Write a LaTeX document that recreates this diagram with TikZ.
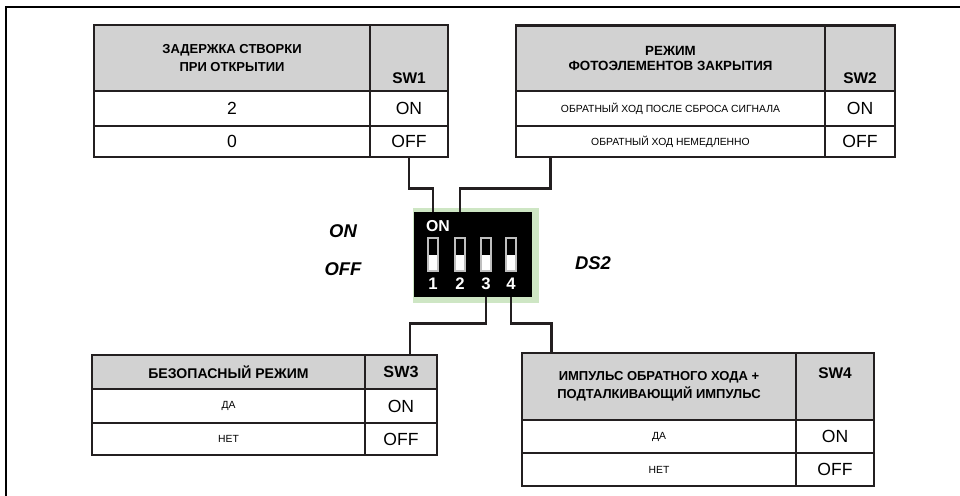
\documentclass[tikz,border=0pt]{standalone}
\usepackage{fontspec}
\setmainfont{Liberation Sans}
\usetikzlibrary{calc,positioning}

\definecolor{framecol}{RGB}{35,31,32}
\definecolor{headgray}{RGB}{210,210,210}
\definecolor{dsgreen}{RGB}{206,230,196}

\begin{document}
\begin{tikzpicture}[x=0.02cm, y=-0.02cm]
    \def\u{0.02cm} % one pixel

    % Styles
    \tikzset{
        cell/.style 2 args={draw=framecol, line width=1.6pt, minimum width=#1*\u, minimum height=#2*\u, inner sep=0pt, align=center},
        headcell/.style={fill=headgray, font=\bfseries\fontsize{7.4}{10.5}\selectfont},
        valcell/.style={fill=white, font=\fontsize{10}{12}\selectfont},
        smallcell/.style={fill=white, font=\fontsize{5.9}{7}\selectfont},
        swlbl/.style={font=\bfseries\fontsize{8.8}{10}\selectfont, inner sep=0pt},
        sidelbl/.style={font=\bfseries\itshape\fontsize{10.5}{12}\selectfont, inner sep=0pt},
        slot/.style={draw=white!75!black, line width=0.9pt, fill=white, minimum width=10*\u, minimum height=33*\u, inner sep=0pt},
        dsnum/.style={text=white, font=\bfseries\fontsize{9.5}{10}\selectfont, inner sep=0pt},
        wire/.style={draw=framecol, line width=1.5pt}
    }

    \useasboundingbox (0,0) rectangle (960,496);

    % --- OUTER FRAME ---
    \draw[line width=1.7pt] (6,500) -- (6,7) -- (962,7);

    % --- TABLE SW1 ---
    \node[cell={276}{66}, headcell] (h1) at (232,58) {ЗАДЕРЖКА СТВОРКИ\\ПРИ ОТКРЫТИИ};
    \node[cell={78}{66}, headcell] (s1) at (409,58) {};
    \node[swlbl, above=5pt of s1.south] (l1) {SW1};
    \node[cell={276}{35}, valcell] (a1) at (232,108.5) {2};
    \node[cell={78}{35}, valcell] (b1) at (409,108.5) {ON};
    \node[cell={276}{31}, valcell] (c1) at (232,141.5) {0};
    \node[cell={78}{31}, valcell] (o1) at (409,141.5) {OFF};

    % --- TABLE SW2 ---
    \node[cell={309}{66}, headcell, font=\bfseries\fontsize{7.6}{8.6}\selectfont] (h2) at (670.5,58.5) {РЕЖИМ\\ФОТОЭЛЕМЕНТОВ ЗАКРЫТИЯ};
    \node[cell={70}{66}, headcell] (s2) at (860,58.5) {};
    \node[swlbl, above=5pt of s2.south] (l2) {SW2};
    \node[cell={309}{35}, smallcell] (a2) at (670.5,108.5) {ОБРАТНЫЙ ХОД ПОСЛЕ СБРОСА СИГНАЛА};
    \node[cell={70}{35}, valcell] (b2) at (860,108.5) {ON};
    \node[cell={309}{31}, smallcell] (c2) at (670.5,141.5) {ОБРАТНЫЙ ХОД НЕМЕДЛЕННО};
    \node[cell={70}{31}, valcell] (o2) at (860,141.5) {OFF};

    % --- DIP SWITCH DS2 ---
    \node[fill=dsgreen, minimum width=126*\u, minimum height=95*\u, inner sep=0pt] (dsbg) at (476,255.5) {};
    \node[fill=black, minimum width=118*\u, minimum height=85*\u, inner sep=0pt] (ds) at (473,254.5) {};
    \node[text=white, font=\bfseries\fontsize{9}{10}\selectfont, inner sep=0pt] (dson) at (438,226.5) {ON};
    \foreach \i/\x in {1/433,2/460,3/486,4/511} {
        \node[slot] (k\i) at (\x,254.5) {};
        \fill[black] (k\i.north west) ++(1.6,1.6) rectangle ($(k\i.east)+(-1.6,0.5)$);
        \node[dsnum] (n\i) at (\x,284) {\i};
    }

    \node[sidelbl] (lon) at (343,231) {ON};
    \node[sidelbl] (loff) at (343,269) {OFF};
    \node[sidelbl] (lds) at (593,263) {DS2};

    % --- TABLE SW3 ---
    \node[cell={273}{34}, headcell, font=\bfseries\fontsize{8}{9}\selectfont] (h3) at (228.5,372) {БЕЗОПАСНЫЙ РЕЖИМ};
    \node[cell={72}{34}, headcell, font=\bfseries\fontsize{9.2}{10}\selectfont] (s3) at (401,372) {SW3};
    \node[cell={273}{34}, smallcell] (a3) at (228.5,406) {ДА};
    \node[cell={72}{34}, valcell] (b3) at (401,406) {ON};
    \node[cell={273}{32}, smallcell] (c3) at (228.5,439) {НЕТ};
    \node[cell={72}{32}, valcell] (o3) at (401,439) {OFF};

    % --- TABLE SW4 ---
    \node[cell={274}{67}, headcell, font=\bfseries\fontsize{7.4}{10.2}\selectfont] (h4) at (659,386.5) {ИМПУЛЬС ОБРАТНОГО ХОДА +\\ПОДТАЛКИВАЮЩИЙ ИМПУЛЬС};
    \node[cell={78}{67}, headcell] (s4) at (835,386.5) {};
    \node[swlbl, below=9pt of s4.north] (l4) {SW4};
    \node[cell={274}{33}, smallcell] (a4) at (659,436.5) {ДА};
    \node[cell={78}{33}, valcell] (b4) at (835,436.5) {ON};
    \node[cell={274}{33}, smallcell] (c4) at (659,469.5) {НЕТ};
    \node[cell={78}{33}, valcell] (o4) at (835,469.5) {OFF};

    % --- CONNECTIONS ---
    \coordinate (w2) at ($(c2.south west)+(36,0)$);
    \coordinate (w3) at ($(s3.north)+(9,0)$);
    \coordinate (w4) at ($(h4.north west)+(31,0)$);
    \draw[wire] (o1.south) -- ++(0,30) -| (k1 |- ds.north);
    \draw[wire] (w2) -- ++(0,30) -| (k2 |- ds.north);
    \draw[wire] (k3 |- ds.south) -- ++(0,26) -| (w3);
    \draw[wire] (k4 |- ds.south) -- ++(0,26) -| (w4);

\end{tikzpicture}
\end{document}
